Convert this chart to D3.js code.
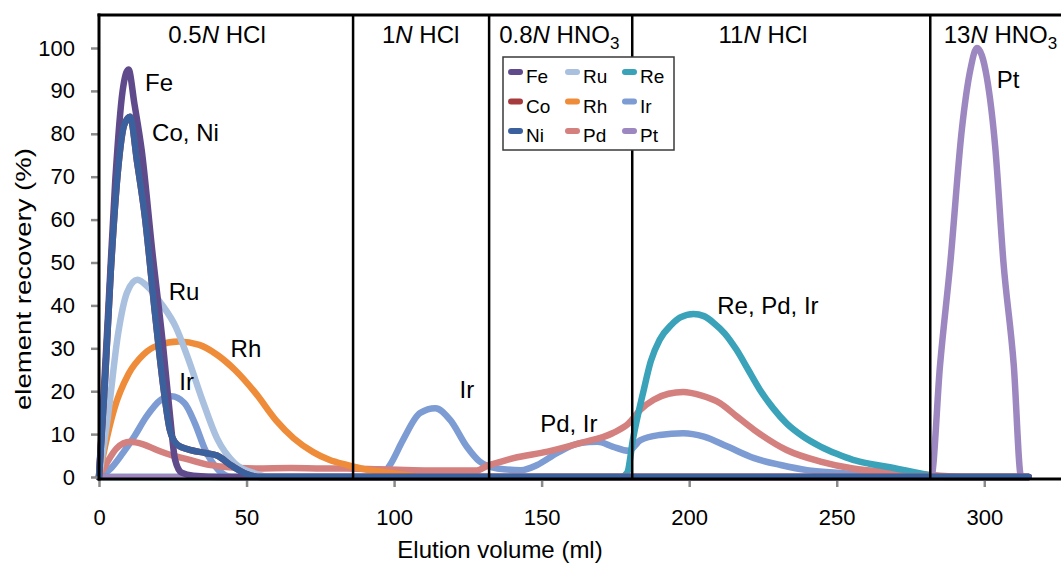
<!DOCTYPE html>
<html>
<head>
<meta charset="utf-8">
<script src="https://cdn.jsdelivr.net/npm/d3@7/dist/d3.min.js"></script>
<style>
  html, body { margin: 0; padding: 0; background: #fff; }
  svg { display: block; font-family: "Liberation Sans", Arial, sans-serif; }
</style>
</head>
<body>
<svg id="chart" width="1061" height="565"></svg>
<script>
// Elution profiles: [elution volume (ml), element recovery (%)]
const fe = [[0,0],[3,37],[5.5,69],[8,90],[10,95],[12,87],[14.5,76],[18,53],[21.8,30],[24.1,14],[25.8,4],[28,1],[32,0.3],[42,0],[315,0]];
const co = [[0,0],[2,22],[4,48],[6.5,72],[8.5,82],[10.5,84],[13,73],[15.5,61],[19,38],[22,20],[24,11],[26.5,7.5],[30,6.5],[36,5.6],[40,5],[45,2.6],[50,0.7],[55,0],[315,0]];
const ni = [[0,0],[2,22],[4,48],[6.5,72],[8.5,82],[10.5,84],[13,73],[15.5,61],[19,38],[22,20],[24,11],[26.5,7.5],[30,6.5],[36,5.6],[40,5],[45,2.6],[50,0.7],[55,0],[315,0]];
const ru = [[0,0],[3,14],[6.5,33.5],[9.5,43],[13,46],[17,44],[21,40.5],[26,35],[30,28],[35,18],[40,9],[46,3.2],[53,0.8],[58,0],[315,0]];
const rh = [[0,0],[2,7],[5,15.5],[10,24],[15,28.5],[20,30.7],[27,31.6],[34,30.8],[40,28.5],[46,25],[53,19.6],[60,13.2],[66,9],[72.6,5.8],[78,4],[84,2.8],[90,1.8],[96,1.2],[104,0.5],[110,0],[315,0]];
const pd = [[0,0],[2.6,3.2],[6,6.7],[10.5,8.2],[15,7.6],[19.6,6.3],[25,5],[30.8,4],[36,3],[42,2.4],[53,2],[65,2.1],[76,2],[84,2],[95,1.8],[106.5,1.6],[118,1.5],[128,1.5],[131.5,2.6],[136,3.5],[140.5,4.4],[152,5.9],[163,7.9],[174,10.2],[179.5,12.5],[183.5,15.7],[188,18],[193,19.4],[198,19.8],[204,19],[210.5,17.2],[216,14.2],[222,11],[233,6.3],[244.5,3.6],[255.5,2],[267,1.2],[278,0.7],[285,0.3],[295,0],[315,0]];
const re = [[0,0],[177,0],[179,1],[181,9],[184.5,20],[187,27],[190,32],[194,35.5],[197,37.2],[201.5,38],[205,37.5],[208.5,35.8],[212,33.5],[216,29.7],[220,25],[224,20.3],[228.5,16],[233,12.5],[238.5,9.5],[244.5,7.1],[250,5.4],[255.5,4],[261,3.1],[267,2.4],[273,1.6],[278,0.9],[283,0.2],[290,0],[315,0]];
const ir = [[0,0],[4,2],[8,5.5],[12,9.5],[16,14],[21,18],[24.5,18.8],[29,17.2],[32.5,12.5],[36,6.3],[40.5,1.6],[45,0],[95,0],[98.6,2.8],[103,8.6],[108.8,14.9],[114,16],[119,13.3],[124.6,7.1],[129,3.6],[135,2],[143,1.6],[148.5,2.8],[155,5.5],[163,7.9],[169,8.2],[174,7.1],[179.5,6.1],[183.5,8.6],[190,9.8],[198,10.2],[205,9.4],[213,7.1],[222,4.4],[231,2.8],[240,1.6],[250,1],[262,0.5],[275,0.1],[282,0],[315,0]];
const pt = [[0,0],[282,0],[285,26],[288.5,50],[292.4,81],[295.3,95],[297.5,100],[300.9,93],[303.7,77],[306.5,50],[310,26],[312.5,0],[315,0]];

const elements = ["Fe","Co","Ni","Ru","Rh","Pd","Re","Ir","Pt"];
const profiles = { Fe: fe, Co: co, Ni: ni, Ru: ru, Rh: rh, Pd: pd, Re: re, Ir: ir, Pt: pt };
const colors = { Fe:"#5f4a8b", Co:"#a63b3d", Ni:"#3b609e", Ru:"#a9c0df", Rh:"#ee8c3a",
                 Pd:"#d4807e", Re:"#3aa2b9", Ir:"#7c9cd3", Pt:"#9c87c1" };
// stacking order of the profiles (first = bottom)
const drawOrder = ["Ir","Pd","Re","Rh","Ru","Pt","Fe","Co","Ni"];

const xTicks = [0, 50, 100, 150, 200, 250, 300];
const yTicks = [0, 10, 20, 30, 40, 50, 60, 70, 80, 90, 100];

// eluent steps: boundaries (ml) and labels
const stepBounds = [86.1, 132.2, 180.7, 281.7];
const stepLabels = [
  { ml: 40,    pre: "0.5", acid: "HCl", sub: "" },
  { ml: 109,   pre: "1",   acid: "HCl", sub: "" },
  { ml: 156,   pre: "0.8", acid: "HNO", sub: "3" },
  { ml: 225,   pre: "11",  acid: "HCl", sub: "" },
  { ml: 305.5, pre: "13",  acid: "HNO", sub: "3" }
];

// peak annotations (anchored at text start / baseline)
const peakNotes = [
  { text: "Fe",         ml: 15.6,  pct: 90 },
  { text: "Co, Ni",     ml: 18,    pct: 78.3 },
  { text: "Ru",         ml: 23.6,  pct: 41.3 },
  { text: "Rh",         ml: 44.6,  pct: 28 },
  { text: "Ir",         ml: 27.2,  pct: 20.3 },
  { text: "Ir",         ml: 122.2, pct: 18.5 },
  { text: "Pd, Ir",     ml: 149.5, pct: 10.5 },
  { text: "Re, Pd, Ir", ml: 209.5, pct: 37.9 },
  { text: "Pt",         ml: 304.2, pct: 90.7 }
];

const W = 1061, H = 565;
const svg = d3.select("#chart");

const x = d3.scaleLinear().domain([0, 326]).range([99, 1061]);
const y = d3.scaleLinear().domain([0, 100]).range([477, 48]);
const axisY = 479, frameTop = 15;

// profiles
const line = d3.line()
  .x(d => x(d[0]))
  .y(d => y(d[1]))
  .curve(d3.curveMonotoneX);

svg.append("g").selectAll("path")
  .data(drawOrder)
  .join("path")
  .attr("d", k => line(profiles[k]))
  .attr("fill", "none")
  .attr("stroke", k => colors[k])
  .attr("stroke-width", 6.5)
  .attr("stroke-linecap", "round")
  .attr("stroke-linejoin", "round");

// eluent step dividers
svg.append("g").selectAll("line")
  .data(stepBounds)
  .join("line")
  .attr("x1", d => x(d)).attr("x2", d => x(d))
  .attr("y1", frameTop).attr("y2", axisY)
  .attr("stroke", "#000").attr("stroke-width", 2.5);

// frame top
svg.append("line")
  .attr("x1", x(0) - 1.5).attr("x2", W)
  .attr("y1", frameTop).attr("y2", frameTop)
  .attr("stroke", "#000").attr("stroke-width", 3);

// x axis
const xAxis = svg.append("g").attr("transform", `translate(0,${axisY})`)
  .call(d3.axisBottom(x).tickValues(xTicks).tickSize(8).tickPadding(22).tickFormat(d3.format("d")));
xAxis.select(".domain").remove();
xAxis.selectAll(".tick line").attr("stroke", "#8a8a8a").attr("stroke-width", 2.5);
xAxis.selectAll(".tick text").attr("font-size", 22).attr("font-family", "Liberation Sans, Arial, sans-serif").attr("fill", "#000");
svg.append("line")
  .attr("x1", x(0) - 1.5).attr("x2", W)
  .attr("y1", axisY).attr("y2", axisY)
  .attr("stroke", "#000").attr("stroke-width", 3);

// y axis
const yAxis = svg.append("g").attr("transform", `translate(${x(0)},0)`)
  .call(d3.axisLeft(y).tickValues(yTicks).tickSize(8).tickPadding(16).tickFormat(d3.format("d")));
yAxis.select(".domain").remove();
yAxis.selectAll(".tick line").attr("stroke", "#8a8a8a").attr("stroke-width", 2.5);
yAxis.selectAll(".tick text").attr("font-size", 22).attr("font-family", "Liberation Sans, Arial, sans-serif").attr("fill", "#000");
svg.append("line")
  .attr("x1", x(0)).attr("x2", x(0))
  .attr("y1", frameTop - 1.5).attr("y2", axisY + 1.5)
  .attr("stroke", "#000").attr("stroke-width", 3);

// axis titles
svg.append("text")
  .attr("x", 500).attr("y", 558)
  .attr("text-anchor", "middle")
  .attr("font-size", 24)
  .text("Elution volume (ml)");
svg.append("text")
  .attr("transform", "translate(31,279) rotate(-90)")
  .attr("text-anchor", "middle")
  .attr("font-size", 22)
  .attr("textLength", 262)
  .attr("lengthAdjust", "spacingAndGlyphs")
  .text("element recovery (%)");

// eluent step labels
const steps = svg.append("g").selectAll("text")
  .data(stepLabels)
  .join("text")
  .attr("x", d => x(d.ml)).attr("y", 43)
  .attr("text-anchor", "middle")
  .attr("font-size", 24);
steps.append("tspan").text(d => d.pre);
steps.append("tspan").attr("font-style", "italic").text("N");
steps.append("tspan").text(d => " " + d.acid);
steps.filter(d => d.sub).append("tspan")
  .attr("font-size", 17).attr("dy", 6).text(d => d.sub);

// peak annotations
svg.append("g").selectAll("text")
  .data(peakNotes)
  .join("text")
  .attr("x", d => x(d.ml)).attr("y", d => y(d.pct))
  .attr("font-size", 24)
  .text(d => d.text);

// legend
const lg = svg.append("g").attr("transform", "translate(503,57)");
lg.append("rect")
  .attr("width", 171).attr("height", 93)
  .attr("fill", "#fff").attr("stroke", "#3a3a3a").attr("stroke-width", 1.5);
const colX = [8, 65, 122];
const item = lg.selectAll("g.item")
  .data(elements)
  .join("g")
  .attr("class", "item")
  .attr("transform", (d, i) => `translate(${colX[Math.floor(i / 3)]},${20 + (i % 3) * 29.5})`);
item.append("line")
  .attr("x1", 0).attr("x2", 9).attr("y1", -5).attr("y2", -5)
  .attr("stroke", d => colors[d]).attr("stroke-width", 6).attr("stroke-linecap", "round");
item.append("text")
  .attr("x", 15).attr("y", 6)
  .attr("font-size", 19)
  .text(d => d);
</script>
</body>
</html>
